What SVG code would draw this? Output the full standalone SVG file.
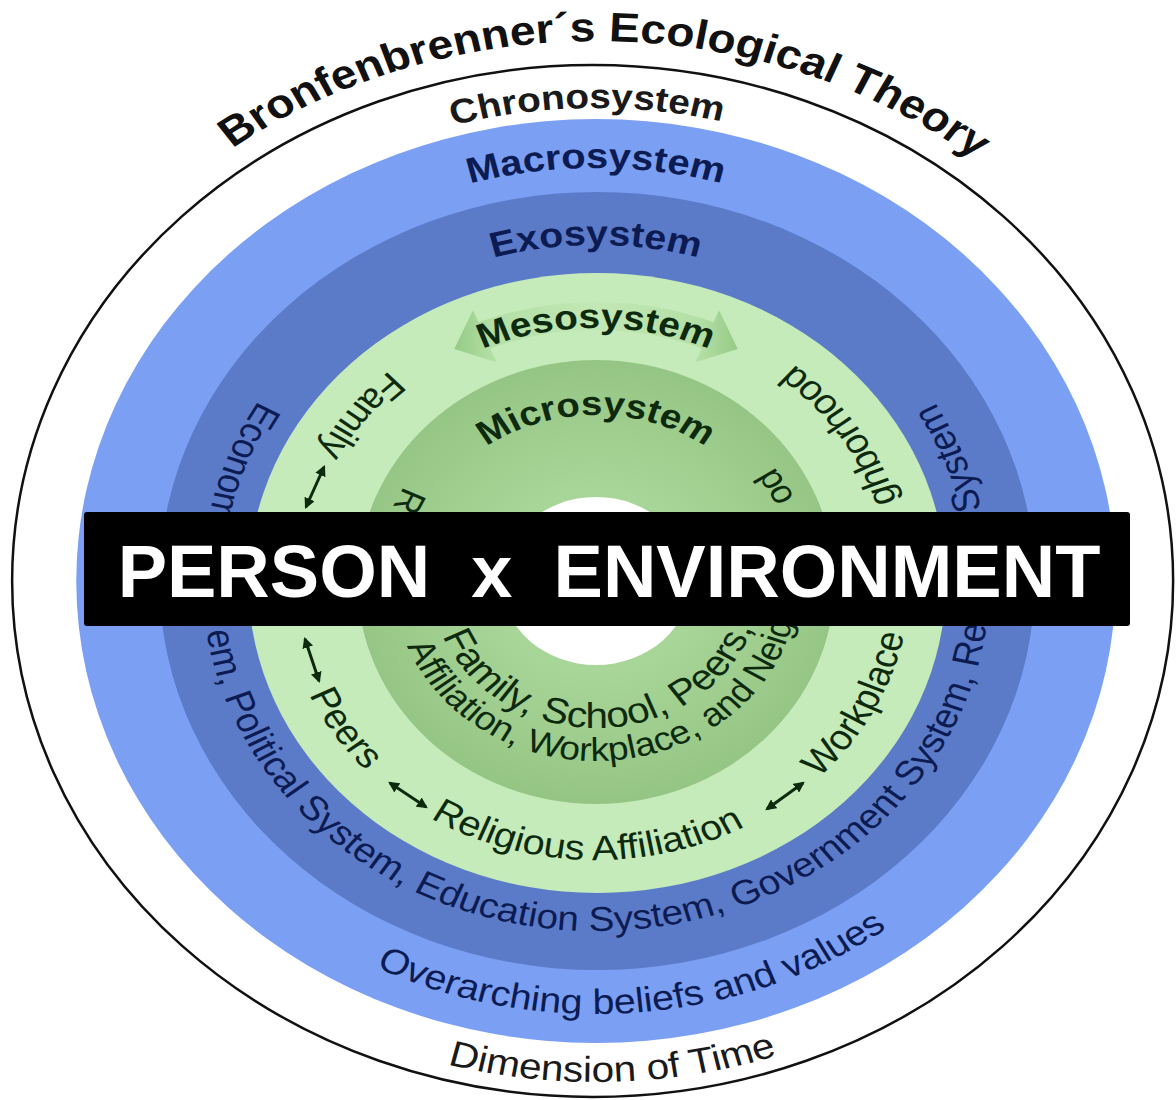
<svg xmlns="http://www.w3.org/2000/svg" width="1176" height="1100" viewBox="0 0 1176 1100">
<defs>
<style>
.t{font-family:"Liberation Sans",Arial,Helvetica,sans-serif}
.hd{font-weight:bold;text-anchor:middle}
.navy{fill:#0c1b52}
.grn{fill:#0e2a0e}
.dk{fill:#1a1a1a}
.dbl{stroke:#0e2a0e;stroke-width:3;fill:none;marker-start:url(#ah);marker-end:url(#ah)}
</style>
<marker id="ah" viewBox="0 0 10 10" refX="8" refY="5" markerWidth="11" markerHeight="11" markerUnits="userSpaceOnUse" orient="auto-start-reverse">
<path d="M0,0 L10,5 L0,10 z" fill="#0e2a0e"/>
</marker>
<path id="p-title" d="M -540,0 A 540 540 0 0 1 540,0"/>
<path id="p-chrono" d="M -473,0 A 473 473 0 0 1 473,0"/>
<path id="p-macro" d="M -413,0 A 413 413 0 0 1 413,0"/>
<path id="p-exo" d="M -336,0 A 336 336 0 0 1 336,0"/>
<path id="p-meso" d="M -253,0 A 253 253 0 0 1 253,0"/>
<path id="p-micro" d="M -166,0 A 166 166 0 0 1 166,0"/>
<path id="r501" d="M 0,-501 A 501 501 0 0 0 0,501 A 501 501 0 0 0 0,-501"/>
<path id="r433" d="M 0,-433 A 433 433 0 0 0 0,433 A 433 433 0 0 0 0,-433"/>
<path id="r350" d="M 0,-350 A 350 350 0 0 0 0,350 A 350 350 0 0 0 0,-350"/>
<path id="r279" d="M 0,-279 A 279 279 0 0 0 0,279 A 279 279 0 0 0 0,-279"/>
<path id="r195" d="M 0,-195 A 195 195 0 0 0 0,195 A 195 195 0 0 0 0,-195"/>
<path id="r180" d="M 0,-180 A 180 180 0 0 0 0,180 A 180 180 0 0 0 0,-180"/>
<path id="r147" d="M 0,-147 A 147 147 0 0 0 0,147 A 147 147 0 0 0 0,-147"/>
<radialGradient id="gMicro" cx="0" cy="0" r="222" gradientUnits="userSpaceOnUse">
<stop offset="0.4" stop-color="#a8d699"/>
<stop offset="1" stop-color="#95c584"/>
</radialGradient>
<linearGradient id="gArrow" x1="0" y1="0" x2="1" y2="0">
<stop offset="0" stop-color="#96ca86"/>
<stop offset="0.13" stop-color="#b3dfa5"/>
<stop offset="0.5" stop-color="#c2e8b5"/>
<stop offset="0.87" stop-color="#b3dfa5"/>
<stop offset="1" stop-color="#96ca86"/>
</linearGradient>
</defs>
<rect width="1176" height="1100" fill="#ffffff"/>
<g id="diagram" transform="translate(596,581) scale(1.125,1)">
  <g id="chronosystem">
    <circle cx="-3" cy="0" r="516" fill="#ffffff" stroke="#111111" stroke-width="2.5" vector-effect="non-scaling-stroke"/>
    <text class="t hd" font-size="41" fill="#111111"><textPath href="#p-title" startOffset="857">Bronfenbrenner´s Ecological Theory</textPath></text>
    <text class="t hd dk" font-size="34.5"><textPath href="#p-chrono" startOffset="735">Chronosystem</textPath></text>
    <text class="t dk" font-size="36" text-anchor="middle"><textPath href="#r501" startOffset="1589">Dimension of Time</textPath></text>
  </g>
  <g id="macrosystem">
    <circle cx="0" cy="0" r="462" fill="#7a9ff3"/>
    <text class="t hd navy" font-size="35.5"><textPath href="#p-macro" startOffset="50%">Macrosystem</textPath></text>
    <text class="t navy" font-size="35" text-anchor="middle"><textPath href="#r433" startOffset="1397">Overarching beliefs and values</textPath></text>
  </g>
  <g id="exosystem">
    <circle cx="1" cy="0" r="389" fill="#5b7bc9"/>
    <text class="t hd navy" font-size="35"><textPath href="#p-exo" startOffset="50%">Exosystem</textPath></text>
    <text class="t navy" font-size="34.5"><textPath href="#r350" startOffset="360">Econom</textPath></text>
    <text class="t navy" font-size="34.5"><textPath href="#r350" startOffset="600">em, Political System, Education System, Government System, Re</textPath></text>
    <text class="t navy" font-size="34.5"><textPath href="#r350" startOffset="1721">System</textPath></text>
  </g>
  <g id="mesosystem">
    <circle cx="1" cy="2" r="310" fill="#c4ebb9"/>
    <path d="M -104.5,-258.7 A 279 279 0 0 1 104.5,-258.7 L 109.4,-270.7 L 126,-232 L 88.4,-218.8 L 94,-232.7 A 251 251 0 0 0 -94,-232.7 L -88.4,-218.8 L -126,-232 L -109.4,-270.7 Z" fill="url(#gArrow)"/>
    <text class="t hd grn" font-size="34.5"><textPath href="#p-meso" startOffset="50%">Mesosystem</textPath></text>
    <g class="t grn" font-size="35">
      <text><textPath href="#r279" startOffset="200">Family</textPath></text>
      <text><textPath href="#r279" startOffset="555">Peers</textPath></text>
      <text><textPath href="#r279" startOffset="721">Religious Affiliation</textPath></text>
      <text><textPath href="#r279" startOffset="1096">Workplace</textPath></text>
      <text><textPath href="#r279" startOffset="1395">ghborhood</textPath></text>
    </g>
  </g>
  <g id="microsystem">
    <ellipse cx="0" cy="1" rx="212" ry="222" fill="url(#gMicro)"/>
    <text class="t hd grn" font-size="34"><textPath href="#p-micro" startOffset="50%">Microsystem</textPath></text>
    <g class="t grn">
      <text font-size="33"><textPath href="#r195" startOffset="207">R</textPath></text>
      <text font-size="36"><textPath href="#r147" startOffset="287">Family, School, Peers,</textPath></text>
      <text font-size="33"><textPath href="#r180" startOffset="349">Affiliation, Workplace, and Neig</textPath></text>
      <text font-size="33"><textPath href="#r195" startOffset="1004">od</textPath></text>
    </g>
  </g>
  <g id="person">
    <ellipse cx="0" cy="0" rx="84" ry="84" fill="#ffffff"/>
  </g>
</g>
<g id="connectors">
  <line class="dbl" x1="324" y1="467" x2="306" y2="507"/>
  <line class="dbl" x1="305" y1="639" x2="319" y2="681"/>
  <line class="dbl" x1="390" y1="783" x2="426" y2="807"/>
  <line class="dbl" x1="767" y1="809" x2="803" y2="783"/>
</g>
<g id="label-person-environment">
  <rect x="84" y="512" width="1046" height="114" rx="3" fill="#000000"/>
  <text class="t" x="609" y="597" font-size="74" font-weight="bold" fill="#ffffff" text-anchor="middle">PERSON &#160;x &#160;ENVIRONMENT</text>
</g>
</svg>
